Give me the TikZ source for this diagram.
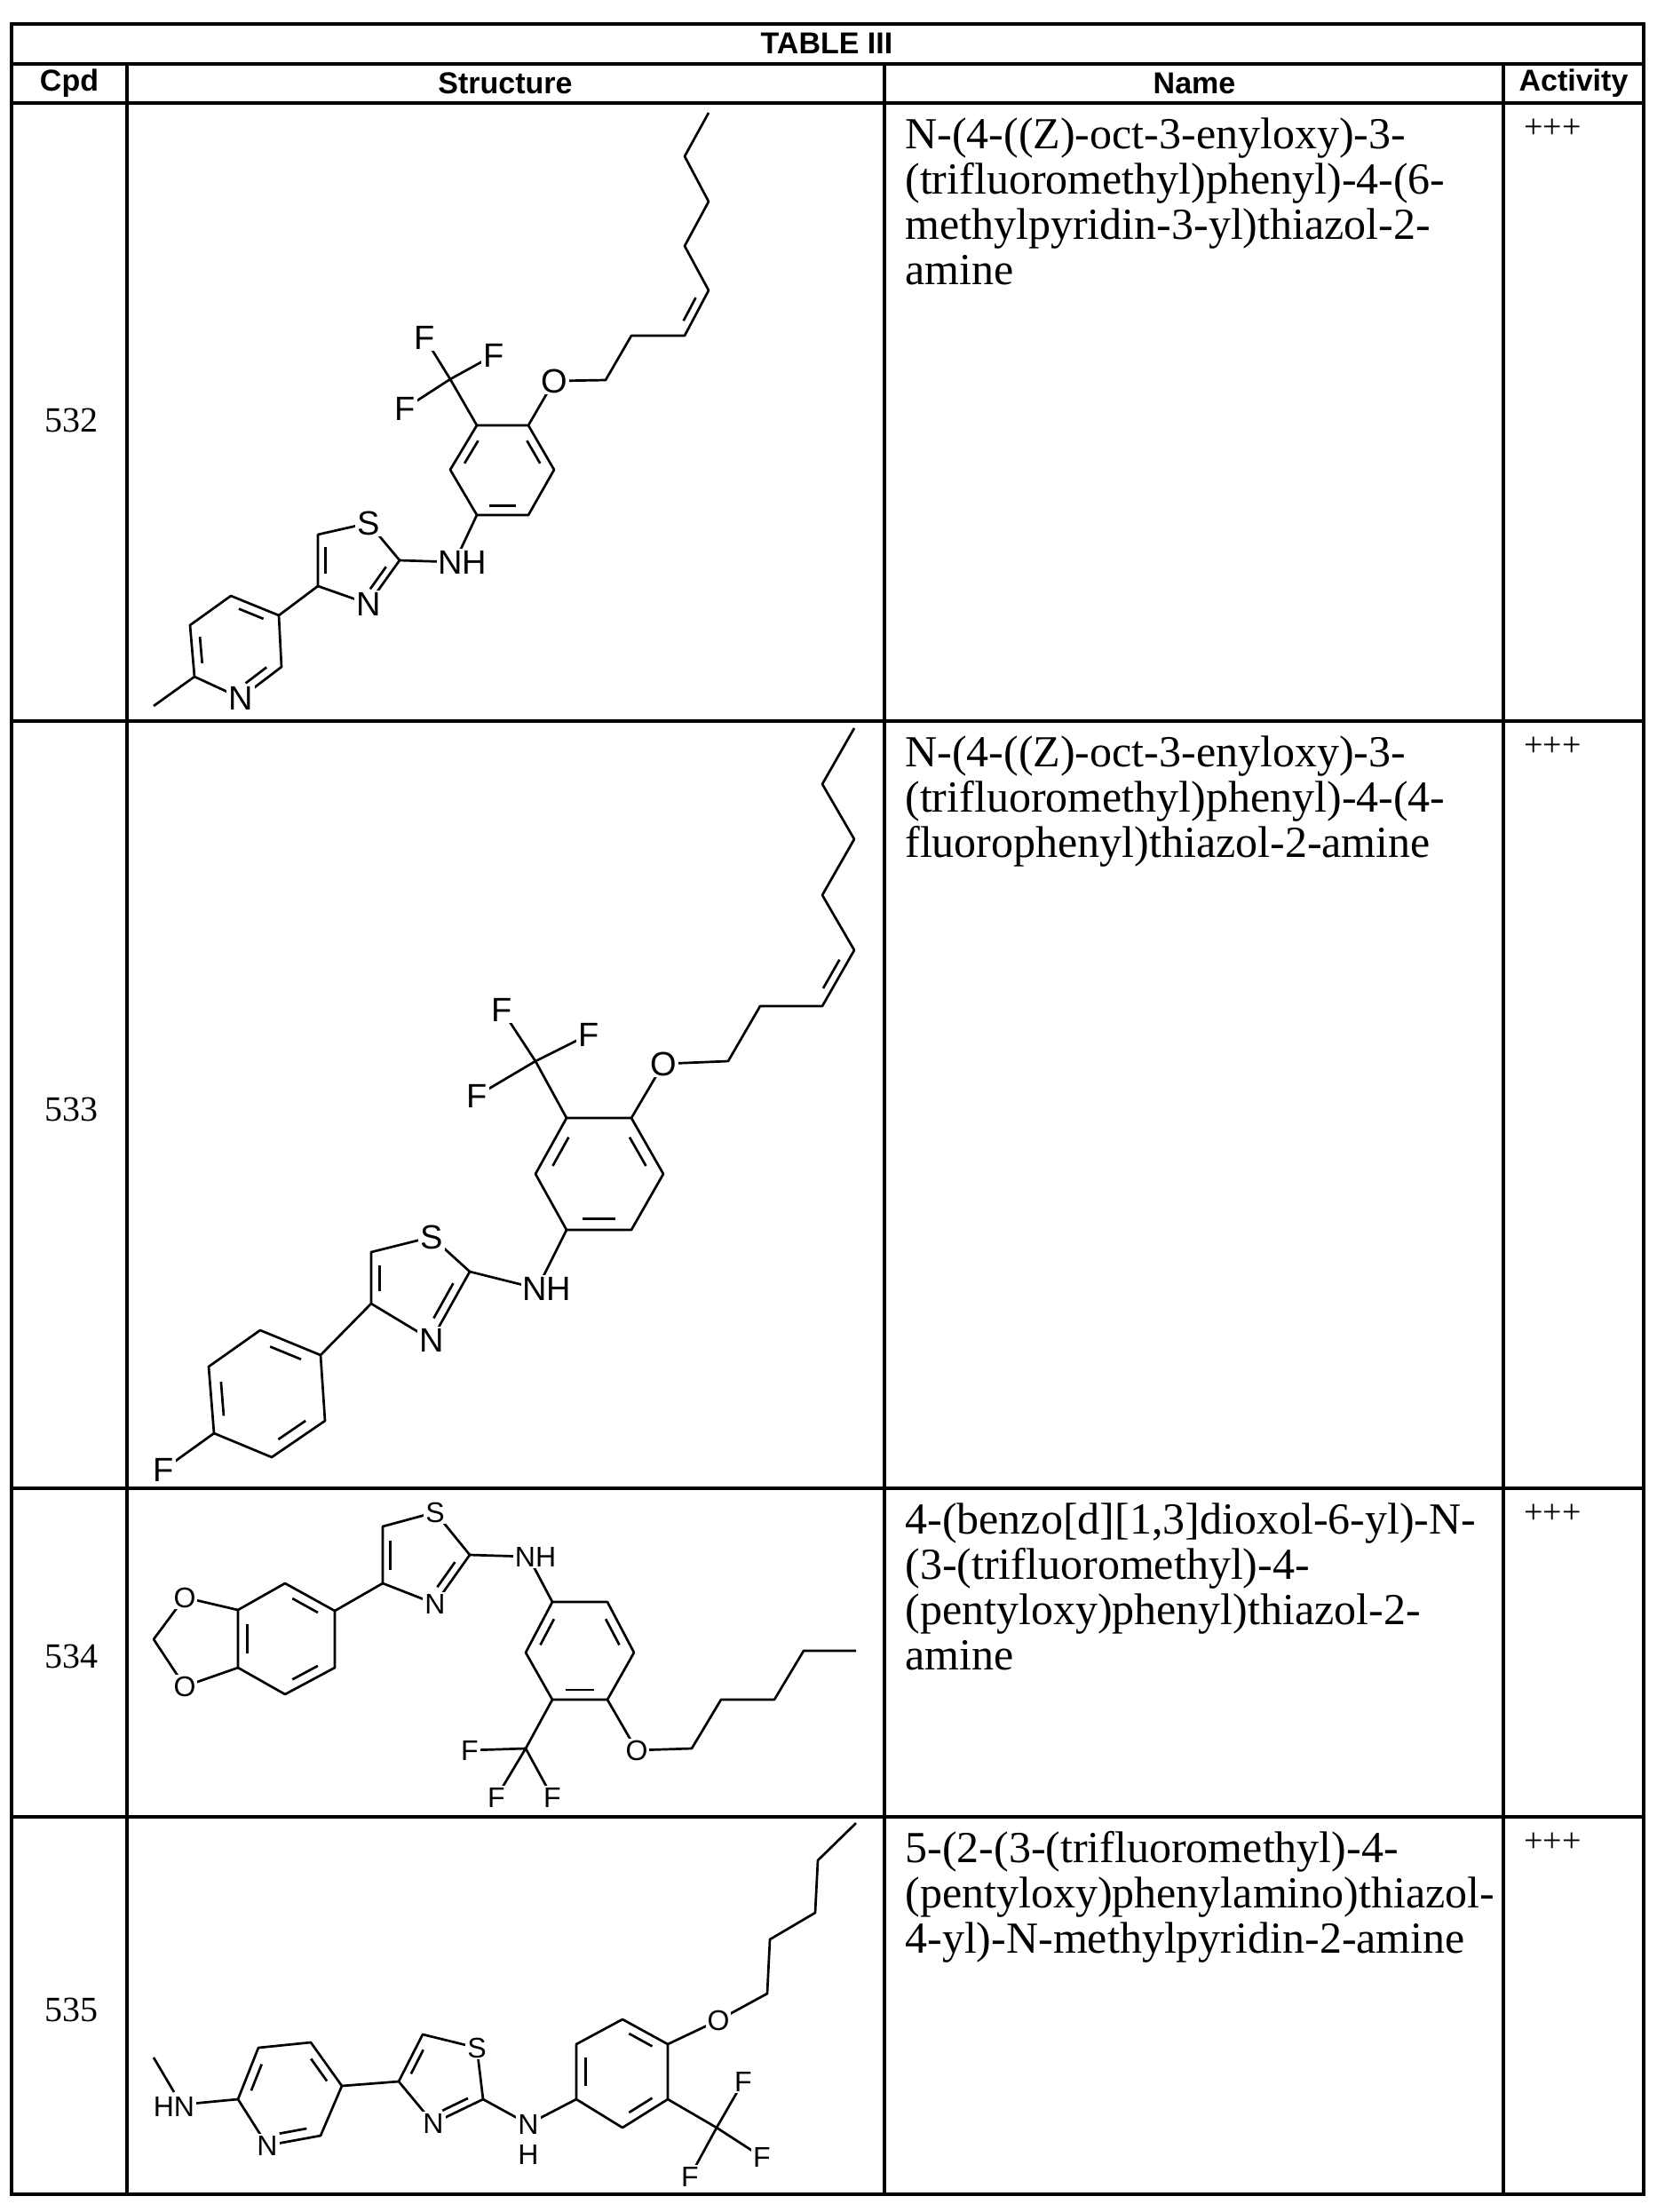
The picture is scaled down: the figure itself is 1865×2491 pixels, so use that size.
\documentclass[tikz,border=0pt]{standalone}
\usepackage{fontspec}
\setmainfont{Liberation Serif}
\setsansfont{Liberation Sans}
\usetikzlibrary{calc}
\newcommand\dbin[3]{\draw[bond] ($($(#1)!0.18!(#2)$)!0.2!(#3)$) -- ($($(#2)!0.18!(#1)$)!0.2!(#3)$);}
\tikzset{
 grid/.style={line width=1.6pt},
 bond/.style={line width=1.35pt},
 labA/.style={font=\sffamily\fontsize{19pt}{19pt}\selectfont,fill=white,inner sep=1pt},
 labB/.style={font=\sffamily\fontsize{16pt}{16pt}\selectfont,fill=white,inner sep=1pt},
 hdr/.style={font=\sffamily\bfseries\fontsize{17pt}{17pt}\selectfont},
 nm/.style={font=\fontsize{25pt}{25.5pt}\selectfont,align=left,anchor=north west,inner sep=0pt},
 act/.style={font=\fontsize{19pt}{19pt}\selectfont,anchor=north west,inner sep=0pt},
 cpd/.style={font=\fontsize{20pt}{20pt}\selectfont}
}
\begin{document}
\begin{tikzpicture}[x=0.5pt,y=-0.5pt]
\useasboundingbox[fill=white] (0,0) rectangle (1865,2491);
% table
\draw[grid] (13,27) rectangle (1851,2471);
\draw[grid] (13,72) -- (1851,72);
\draw[grid] (13,116) -- (1851,116);
\draw[grid] (13,812) -- (1851,812);
\draw[grid] (13,1676) -- (1851,1676);
\draw[grid] (13,2046) -- (1851,2046);
\foreach \x in {143,996,1693} \draw[grid] (\x,72) -- (\x,2471);
\node[hdr] (title) at (931,49) {TABLE III};
\node[hdr] (hc) at (78,94) {Cpd};
\node[hdr] (hs) at (569,94) {Structure};
\node[hdr] (hn) at (1345,94) {Name};
\node[hdr] (ha) at (1772,94) {Activity};
\node[cpd] (c532) at (80,473) {532};
\node[cpd] (c533) at (80,1249) {533};
\node[cpd] (c534) at (80,1865) {534};
\node[cpd] (c535) at (80,2263) {535};
\node[nm] (n532) at (1019,132) {N-(4-((Z)-oct-3-enyloxy)-3-\\(trifluoromethyl)phenyl)-4-(6-\\methylpyridin-3-yl)thiazol-2-\\amine};
\node[nm] (n533) at (1019,828) {N-(4-((Z)-oct-3-enyloxy)-3-\\(trifluoromethyl)phenyl)-4-(4-\\fluorophenyl)thiazol-2-amine};
\node[nm] (n534) at (1019,1692) {4-(benzo[d][1,3]dioxol-6-yl)-N-\\(3-(trifluoromethyl)-4-\\(pentyloxy)phenyl)thiazol-2-\\amine};
\node[nm] (n535) at (1019,2062) {5-(2-(3-(trifluoromethyl)-4-\\(pentyloxy)phenylamino)thiazol-\\4-yl)-N-methylpyridin-2-amine};
\foreach \y/\n in {134/a1,830/a2,1694/a3,2064/a4} \node[act] (\n) at (1716,\y) {+++};

% ===== 532 =====
\coordinate (a1) at (798,127); \coordinate (a2) at (771,176); \coordinate (a3) at (798,227);
\coordinate (a4) at (771,277); \coordinate (a5) at (798,327); \coordinate (a6) at (771,378);
\coordinate (a7) at (711,378); \coordinate (a8) at (682,428); \coordinate (aO) at (624,429);
\coordinate (az) at (745,331);
\coordinate (ar1) at (595,479); \coordinate (ar2) at (537,479); \coordinate (ar3) at (507,529);
\coordinate (ar4) at (537,580); \coordinate (ar5) at (595,580); \coordinate (ar6) at (624,529);
\coordinate (arc) at (566,529);
\coordinate (acf) at (507,427); \coordinate (aF1) at (478,380); \coordinate (aF2) at (556,400); \coordinate (aF3) at (456,460);
\coordinate (aNH) at (512,633);
\coordinate (aS) at (415,589); \coordinate (at5) at (358,602); \coordinate (at4) at (358,660);
\coordinate (aN) at (415,680); \coordinate (at2) at (450,631); \coordinate (atc) at (399,632);
\coordinate (ap1) at (314,693); \coordinate (ap2) at (260,671); \coordinate (ap3) at (214,704);
\coordinate (ap4) at (219,762); \coordinate (apN) at (271,786); \coordinate (ap6) at (317,751);
\coordinate (apc) at (266,728); \coordinate (ame) at (173,795);
\draw[bond,line join=round] (a1)--(a2)--(a3)--(a4)--(a5)--(a6)--(a7)--(a8)--(aO)--(ar1)--(ar2)--(ar3)--(ar4)--(ar5)--(ar6)--(ar1);
\dbin{a5}{a6}{az}
\dbin{ar2}{ar3}{arc} \dbin{ar1}{ar6}{arc} \dbin{ar4}{ar5}{arc}
\draw[bond] (ar2)--(acf) (acf)--(aF1) (acf)--(aF2) (acf)--(aF3);
\draw[bond] (ar4)--(aNH)--(at2);
\draw[bond,line join=round] (at2)--(aS)--(at5)--(at4)--(aN)--cycle;
\dbin{at4}{at5}{atc} \dbin{at2}{aN}{atc}
\draw[bond] (at4)--(ap1);
\draw[bond,line join=round] (ap1)--(ap2)--(ap3)--(ap4)--(apN)--(ap6)--cycle;
\dbin{ap1}{ap2}{apc} \dbin{ap3}{ap4}{apc} \dbin{apN}{ap6}{apc}
\draw[bond] (ap4)--(ame);
\node[labA] (l1) at (aO) {O};
\node[labA] (l2) at (aF1) {F}; \node[labA] (l3) at (aF2) {F}; \node[labA] (l4) at (aF3) {F};
\node[labA] (l5) at (521,633) {NH};
\node[labA] (l6) at (aS) {S}; \node[labA] (l7) at (aN) {N}; \node[labA] (l8) at (apN) {N};

% ===== 533 =====
\coordinate (b1) at (962,820); \coordinate (b2) at (926,883); \coordinate (b3) at (962,945);
\coordinate (b4) at (926,1008); \coordinate (b5) at (962,1070); \coordinate (b6) at (926,1133);
\coordinate (b7) at (856,1133); \coordinate (b8) at (820,1195); \coordinate (bO) at (747,1198);
\coordinate (bz) at (905,1078);
\coordinate (br1) at (711,1259); \coordinate (br2) at (638,1259); \coordinate (br3) at (603,1322);
\coordinate (br4) at (638,1385); \coordinate (br5) at (711,1385); \coordinate (br6) at (747,1322);
\coordinate (brc) at (675,1322);
\coordinate (bcf) at (603,1195); \coordinate (bF1) at (565,1137); \coordinate (bF2) at (663,1165); \coordinate (bF3) at (537,1234);
\coordinate (bNH) at (605,1451);
\coordinate (bS) at (486,1393); \coordinate (bt5) at (418,1410); \coordinate (bt4) at (418,1468);
\coordinate (bN) at (486,1509); \coordinate (bt2) at (529,1432); \coordinate (btc) at (467,1442);
\coordinate (bq1) at (361,1526); \coordinate (bq2) at (293,1498); \coordinate (bq3) at (235,1539);
\coordinate (bq4) at (241,1614); \coordinate (bq5) at (306,1641); \coordinate (bq6) at (366,1600);
\coordinate (bqc) at (300,1570); \coordinate (bF) at (184,1655);
\draw[bond,line join=round] (b1)--(b2)--(b3)--(b4)--(b5)--(b6)--(b7)--(b8)--(bO)--(br1)--(br2)--(br3)--(br4)--(br5)--(br6)--(br1);
\dbin{b5}{b6}{bz}
\dbin{br2}{br3}{brc} \dbin{br1}{br6}{brc} \dbin{br4}{br5}{brc}
\draw[bond] (br2)--(bcf) (bcf)--(bF1) (bcf)--(bF2) (bcf)--(bF3);
\draw[bond] (br4)--(bNH)--(bt2);
\draw[bond,line join=round] (bt2)--(bS)--(bt5)--(bt4)--(bN)--cycle;
\dbin{bt4}{bt5}{btc} \dbin{bt2}{bN}{btc}
\draw[bond] (bt4)--(bq1);
\draw[bond,line join=round] (bq1)--(bq2)--(bq3)--(bq4)--(bq5)--(bq6)--cycle;
\dbin{bq1}{bq2}{bqc} \dbin{bq3}{bq4}{bqc} \dbin{bq5}{bq6}{bqc}
\draw[bond] (bq4)--(bF);
\node[labA] (m1) at (bO) {O};
\node[labA] (m2) at (bF1) {F}; \node[labA] (m3) at (bF2) {F}; \node[labA] (m4) at (bF3) {F};
\node[labA] (m5) at (616,1451) {NH};
\node[labA] (m6) at (bS) {S}; \node[labA] (m7) at (bN) {N}; \node[labA] (m8) at (bF) {F};

% ===== 534 =====
\coordinate (cS) at (490,1703); \coordinate (ct5) at (431,1719); \coordinate (ct4) at (431,1783);
\coordinate (cN) at (490,1806); \coordinate (ct2) at (529,1751); \coordinate (ctc) at (474,1752);
\coordinate (cNH) at (595,1753);
\coordinate (cd1) at (377,1814); \coordinate (cd2) at (321,1783); \coordinate (cd3) at (268,1813);
\coordinate (cd4) at (268,1878); \coordinate (cd5) at (321,1908); \coordinate (cd6) at (377,1878);
\coordinate (cdc) at (322,1846);
\coordinate (cO1) at (208,1799); \coordinate (cO2) at (208,1899); \coordinate (cch) at (173,1846);
\coordinate (ce1) at (622,1804); \coordinate (ce2) at (684,1804); \coordinate (ce3) at (714,1861);
\coordinate (ce4) at (684,1914); \coordinate (ce5) at (622,1914); \coordinate (ce6) at (592,1861);
\coordinate (cec) at (653,1859);
\coordinate (cO) at (717,1971);
\coordinate (cc1) at (779,1969); \coordinate (cc2) at (812,1914); \coordinate (cc3) at (872,1914);
\coordinate (cc4) at (905,1859); \coordinate (cc5) at (964,1859);
\coordinate (ccf) at (592,1969); \coordinate (cF1) at (529,1971); \coordinate (cF2) at (559,2024); \coordinate (cF3) at (622,2024);
\draw[bond,line join=round] (ct2)--(cS)--(ct5)--(ct4)--(cN)--cycle;
\dbin{ct4}{ct5}{ctc} \dbin{ct2}{cN}{ctc}
\draw[bond] (ct4)--(cd1);
\draw[bond,line join=round] (cd1)--(cd2)--(cd3)--(cd4)--(cd5)--(cd6)--cycle;
\dbin{cd1}{cd2}{cdc} \dbin{cd3}{cd4}{cdc} \dbin{cd5}{cd6}{cdc}
\draw[bond,line join=round] (cd3)--(cO1)--(cch)--(cO2)--(cd4);
\draw[bond] (ct2)--(cNH)--(ce1);
\draw[bond,line join=round] (ce1)--(ce2)--(ce3)--(ce4)--(ce5)--(ce6)--cycle;
\dbin{ce1}{ce6}{cec} \dbin{ce2}{ce3}{cec} \dbin{ce4}{ce5}{cec}
\draw[bond,line join=round] (ce4)--(cO)--(cc1)--(cc2)--(cc3)--(cc4)--(cc5);
\draw[bond] (ce5)--(ccf) (ccf)--(cF1) (ccf)--(cF2) (ccf)--(cF3);
\node[labB] (k1) at (cS) {S}; \node[labB] (k2) at (cN) {N};
\node[labB] (k3) at (603,1753) {NH};
\node[labB] (k4) at (cO1) {O}; \node[labB] (k5) at (cO2) {O}; \node[labB] (k6) at (cO) {O};
\node[labB] (k7) at (cF1) {F}; \node[labB] (k8) at (cF2) {F}; \node[labB] (k9) at (cF3) {F};

% ===== 535 =====
\coordinate (d1) at (964,2053); \coordinate (d2) at (921,2095); \coordinate (d3) at (918,2154);
\coordinate (d4) at (867,2184); \coordinate (d5) at (864,2245); \coordinate (dO) at (809,2275);
\coordinate (dg4) at (752,2302); \coordinate (dg3) at (752,2364); \coordinate (dg2) at (701,2396);
\coordinate (dg1) at (649,2364); \coordinate (dg6) at (649,2302); \coordinate (dg5) at (701,2274);
\coordinate (dgc) at (701,2334);
\coordinate (dcf) at (807,2396); \coordinate (dF1) at (837,2344); \coordinate (dF2) at (858,2429); \coordinate (dF3) at (777,2451);
\coordinate (dNH) at (595,2392);
\coordinate (dt2) at (544,2364); \coordinate (dS) at (537,2306); \coordinate (dt5) at (476,2291);
\coordinate (dt4) at (449,2344); \coordinate (dN) at (488,2391); \coordinate (dtc) at (499,2339);
\coordinate (dh3) at (385,2349); \coordinate (dh4) at (350,2300); \coordinate (dh5) at (291,2306);
\coordinate (dh6) at (268,2364); \coordinate (dhN) at (301,2416); \coordinate (dh2) at (361,2405);
\coordinate (dhc) at (326,2357);
\coordinate (dNm) at (205,2370); \coordinate (dme) at (173,2317); \coordinate (dme2) at (196,2356);
\draw[bond,line join=round] (d1)--(d2)--(d3)--(d4)--(d5)--(dO)--(dg4)--(dg3)--(dg2)--(dg1)--(dg6)--(dg5)--(dg4);
\dbin{dg5}{dg4}{dgc} \dbin{dg6}{dg1}{dgc} \dbin{dg2}{dg3}{dgc}
\draw[bond] (dg3)--(dcf) (dcf)--(dF1) (dcf)--(dF2) (dcf)--(dF3);
\draw[bond] (dg1)--(dNH)--(dt2);
\draw[bond,line join=round] (dt2)--(dS)--(dt5)--(dt4)--(dN)--cycle;
\dbin{dt4}{dt5}{dtc} \dbin{dt2}{dN}{dtc}
\draw[bond] (dt4)--(dh3);
\draw[bond,line join=round] (dh3)--(dh4)--(dh5)--(dh6)--(dhN)--(dh2)--cycle;
\dbin{dh3}{dh4}{dhc} \dbin{dh5}{dh6}{dhc} \dbin{dhN}{dh2}{dhc}
\draw[bond] (dh6)--(dNm) (dme)--(dme2);
\node[labB] (j1) at (dO) {O};
\node[labB] (j2) at (dF1) {F}; \node[labB] (j3) at (dF2) {F}; \node[labB] (j4) at (dF3) {F};
\node[labB] (j5) at (dNH) {N}; \node[labB] (j6) at (595,2426) {H};
\node[labB] (j7) at (dS) {S}; \node[labB] (j8) at (dN) {N}; \node[labB] (j9) at (dhN) {N};
\node[labB] (j10) at (196,2372) {HN};
\end{tikzpicture}
\end{document}
